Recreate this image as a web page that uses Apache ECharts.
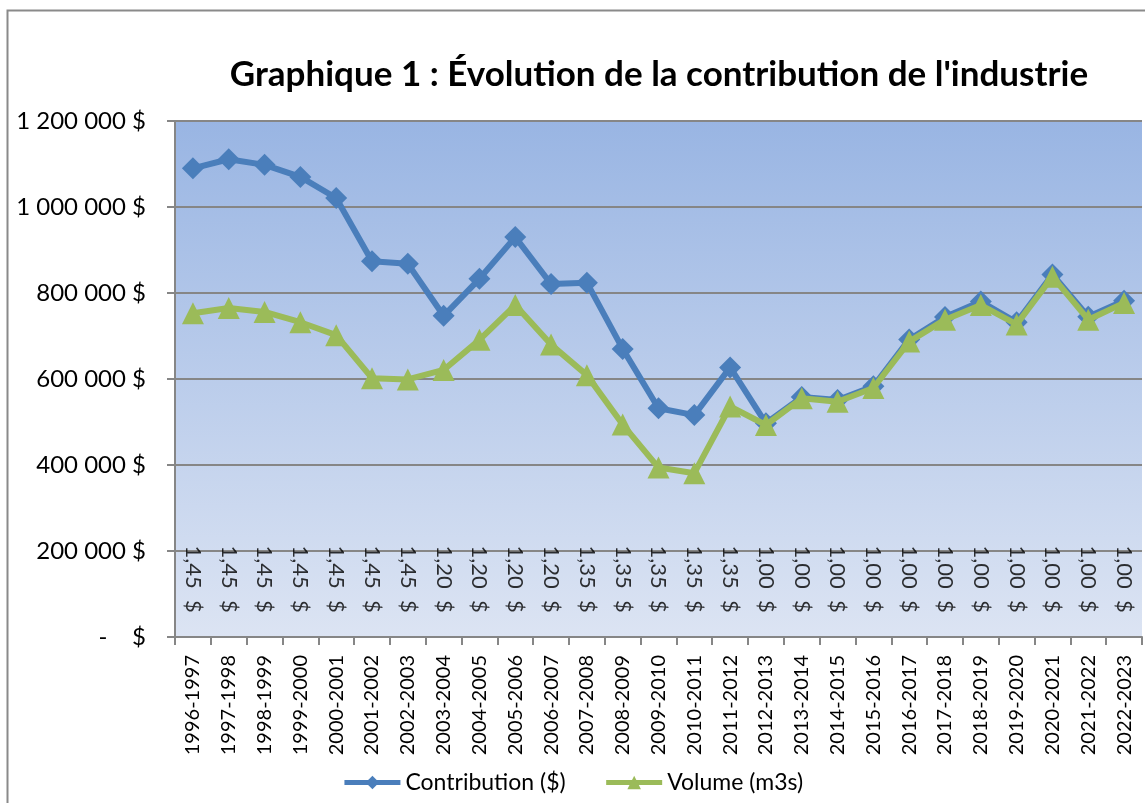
<!DOCTYPE html>
<html>
<head>
<meta charset="utf-8">
<script src="https://cdn.jsdelivr.net/npm/echarts@6/dist/echarts.min.js"></script>
<style>
html,body{margin:0;padding:0;background:#fff;}
#chart{width:1145px;height:803px;}
</style>
</head>
<body>
<div id="chart"></div>
<script>
var categories = ["1996-1997","1997-1998","1998-1999","1999-2000","2000-2001","2001-2002","2002-2003","2003-2004","2004-2005","2005-2006","2006-2007","2007-2008","2008-2009","2009-2010","2010-2011","2011-2012","2012-2013","2013-2014","2014-2015","2015-2016","2016-2017","2017-2018","2018-2019","2019-2020","2020-2021","2021-2022","2022-2023"];
var contribution = [1090000,1111000,1098000,1070000,1021000,874000,868000,747000,833000,930000,821000,824000,670000,532000,516000,627000,497000,558000,551000,583000,692000,744000,780000,732000,843000,745000,782000];
var volume = [753000,765000,756000,732000,702000,602000,599000,621000,691000,772000,680000,609000,494000,394000,381000,536000,493000,555000,547000,579000,687000,738000,772000,727000,838000,738000,777000];
var rates = ["1,45 $","1,45 $","1,45 $","1,45 $","1,45 $","1,45 $","1,45 $","1,20 $","1,20 $","1,20 $","1,20 $","1,35 $","1,35 $","1,35 $","1,35 $","1,35 $","1,00 $","1,00 $","1,00 $","1,00 $","1,00 $","1,00 $","1,00 $","1,00 $","1,00 $","1,00 $","1,00 $"];
var yTicks = {min:0, max:1200000, interval:200000};
var titleText = "Graphique 1 : Évolution de la contribution de l'industrie";
var seriesNames = ["Contribution ($)","Volume (m3s)"];

var FONT = "Lato, 'Liberation Sans', sans-serif";
var rateAnchor = 213000;

function fmtMoney(v){
  if (v === 0) return "-    $";
  return String(v).replace(/\B(?=(\d{3})+(?!\d))/g, " ") + " $";
}

var chart = echarts.init(document.getElementById('chart'), null, {renderer:'canvas'});
chart.setOption({
  animation:false,
  backgroundColor:'#ffffff',
  textStyle:{fontFamily:FONT},
  graphic:[{type:'rect', z:-10, shape:{x:7.5,y:10.5,width:1200,height:900}, style:{fill:'none', stroke:'#8a8a8a', lineWidth:2}}],
  title:{
    text:titleText, left:654, top:52, textAlign:'center',
    textStyle:{fontFamily:FONT, fontWeight:'bold', fontSize:35, color:'#000'}
  },
  legend:{
    data:seriesNames, left:'center', top:766, itemWidth:56, itemHeight:17, itemGap:38,
    lineStyle:{width:5},
    textStyle:{fontFamily:FONT, fontSize:23, color:'#000'}
  },
  grid:{
    left:175, right:3, top:121, bottom:166, show:true, borderWidth:0,
    backgroundColor:{type:'linear', x:0,y:0,x2:0,y2:1, colorStops:[{offset:0,color:'#99b5e3'},{offset:1,color:'#dce4f3'}]}
  },
  xAxis:{
    type:'category', data:categories, boundaryGap:true,
    axisLine:{lineStyle:{color:'#868686', width:2}},
    axisTick:{show:true, length:8, alignWithLabel:false, lineStyle:{color:'#868686', width:2}},
    axisLabel:{rotate:90, margin:18, interval:0, fontFamily:FONT, fontSize:20, color:'#000'},
    splitLine:{show:false}
  },
  yAxis:{
    type:'value', min:yTicks.min, max:yTicks.max, interval:yTicks.interval,
    axisLine:{show:true, lineStyle:{color:'#868686', width:2}},
    axisTick:{show:true, length:8, lineStyle:{color:'#868686', width:2}},
    axisLabel:{formatter:fmtMoney, margin:29, fontFamily:FONT, fontSize:24, color:'#000'},
    splitLine:{show:true, lineStyle:{color:'#868686', width:2}}
  },
  series:[
    {name:seriesNames[0], type:'line', data:contribution, symbol:'diamond', symbolSize:22,
     itemStyle:{color:'#4a7ebb'}, lineStyle:{color:'#4a7ebb', width:6}, z:3},
    {name:seriesNames[1], type:'line', data:volume, symbol:'triangle', symbolSize:22,
     itemStyle:{color:'#9bbb59'}, lineStyle:{color:'#9bbb59', width:6}, z:4},
    {name:'taux', type:'scatter', data:rates.map(function(r,i){return [i, rateAnchor];}),
     symbolSize:1, itemStyle:{color:'rgba(0,0,0,0)'}, silent:true, z:5,
     label:{show:true, position:'inside', rotate:-90, align:'left', verticalAlign:'middle',
       fontFamily:FONT, fontSize:22, color:'#000',
       formatter:function(p){return rates[p.dataIndex].replace(' ', '  ');}}}
  ]
});
</script>
</body>
</html>
